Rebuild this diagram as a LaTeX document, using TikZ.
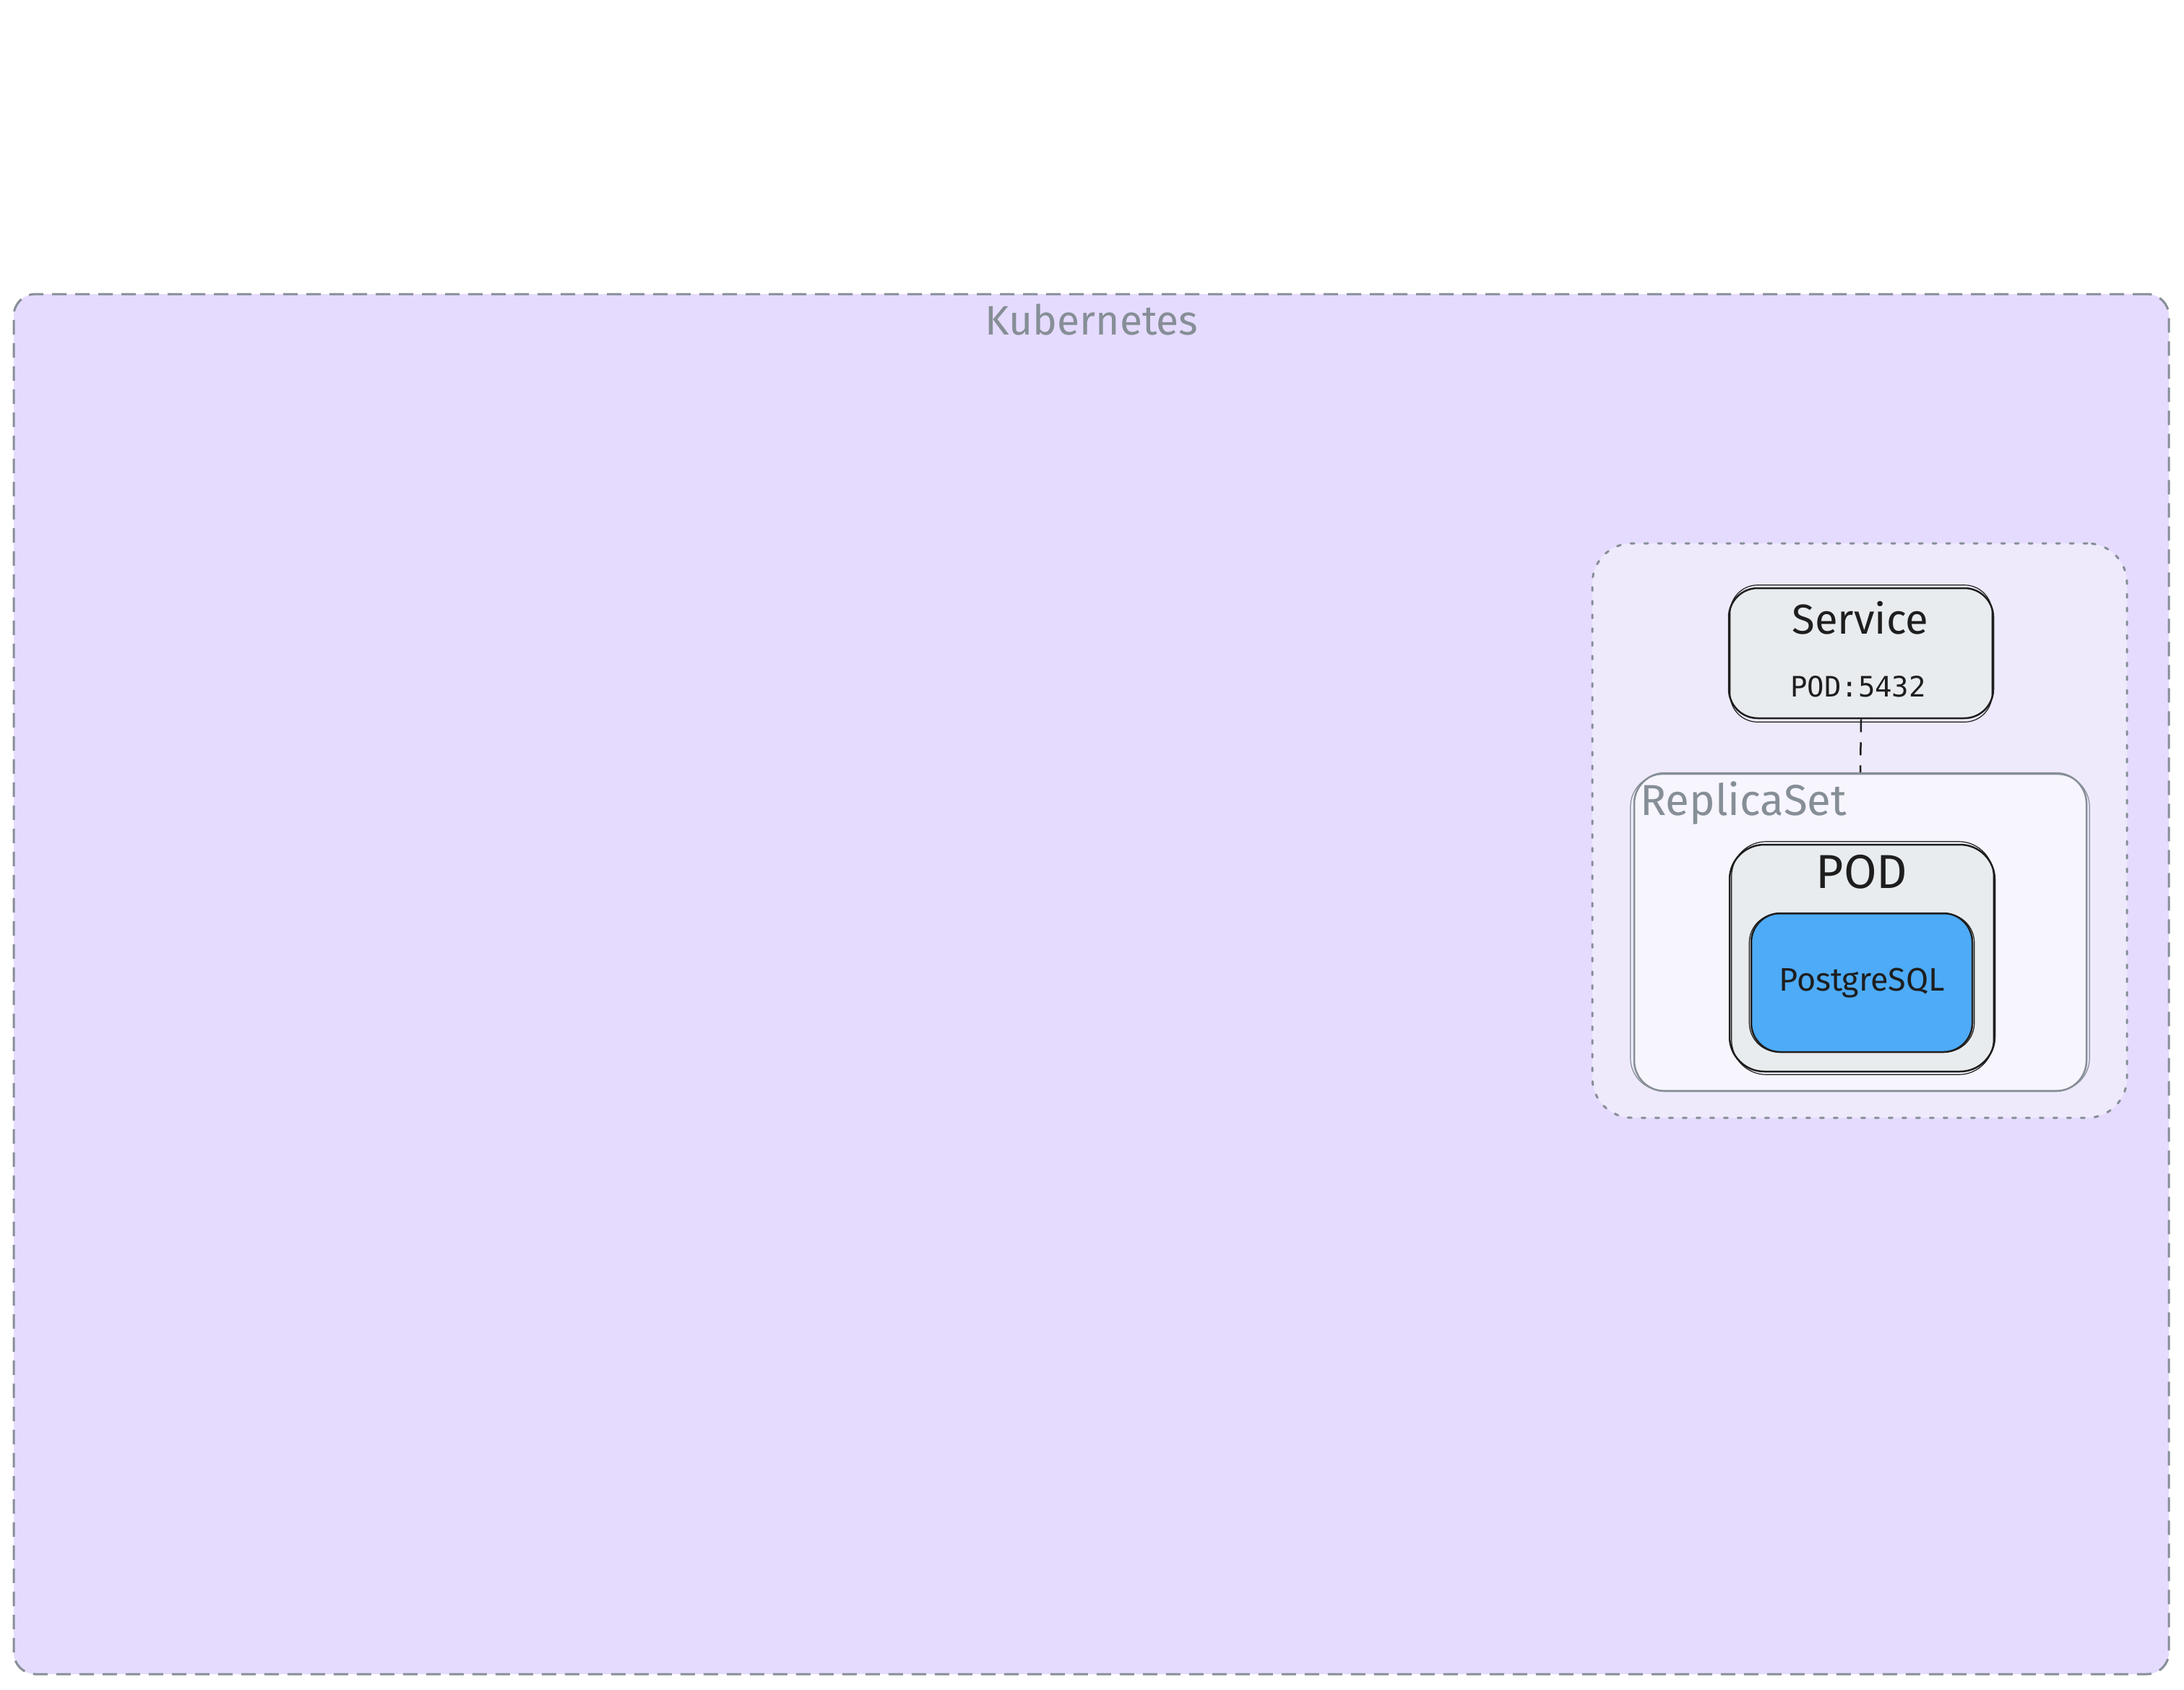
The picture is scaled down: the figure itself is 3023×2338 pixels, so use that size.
\documentclass[tikz,border=0pt]{standalone}
\usepackage{fontspec}
\setmainfont{Fira Sans}
\newfontfamily\monofont{DejaVu Sans Mono}
\definecolor{k8sfill}{HTML}{E5DBFF}
\definecolor{grpfill}{HTML}{EEEAFC}
\definecolor{rsfill}{HTML}{F7F5FD}
\definecolor{boxfill}{HTML}{E9ECEF}
\definecolor{pgfill}{HTML}{4DABF7}
\definecolor{ink}{HTML}{1E1E1E}
\definecolor{greyink}{HTML}{868E96}
\tikzset{
  frame/.style={rectangle, inner sep=0pt, anchor=center},
  k8sbox/.style={frame, draw=greyink, fill=k8sfill, line width=3pt, rounded corners=30pt, dash pattern=on 20pt off 12pt},
  grpbox/.style={frame, draw=greyink, fill=grpfill, line width=3pt, rounded corners=55pt, dash pattern=on 5pt off 14pt, line cap=round},
  rsbox/.style={frame, draw=greyink, fill=rsfill, line width=2.5pt, rounded corners=42pt},
  inkbox/.style={frame, draw=ink, fill=boxfill, line width=2.5pt, rounded corners=40pt},
  pgbox/.style={frame, draw=ink, fill=pgfill, line width=2.5pt, rounded corners=40pt},
  sketch/.style={draw=#1, line width=1.2pt},
  greylabel/.style={text=greyink, inner sep=0pt},
  inklabel/.style={text=ink, inner sep=0pt},
}
\begin{document}
\begin{tikzpicture}[x=1pt,y=-1pt]
\useasboundingbox[fill=white] (0,0) rectangle (3023,2338);
% Kubernetes cluster
\node[k8sbox, minimum width=2983pt, minimum height=1910pt] (k8s) at (1510.5,1362) {};
\node[greylabel, anchor=base, font=\fontsize{57}{63}\selectfont] (k8slbl) at (1511,463) {Kubernetes};
% dotted group
\node[grpbox, minimum width=740pt, minimum height=795pt] (grp) at (2574,1149.5) {};
% ReplicaSet
\node[rsbox, minimum width=626pt, minimum height=440pt] (rs) at (2575,1290) {};
\draw[sketch=greyink, rounded corners=45pt] ([shift={(-4,3)}]rs.north west) rectangle ([shift={(3,-2)}]rs.south east);
\node[greylabel, anchor=base west, font=\fontsize{60}{66}\selectfont] (rslbl) at (2270,1128) {ReplicaSet};
% Service
\node[inkbox, minimum width=366pt, minimum height=180pt] (svc) at (2576,904) {};
\draw[sketch=ink, rounded corners=38pt] ([shift={(3,-3)}]svc.north west) rectangle ([shift={(-3,4)}]svc.south east);
\node[inklabel, anchor=base, font=\fontsize{58}{64}\selectfont] (svclbl) at (2575,877) {Service};
\node[inklabel, anchor=base, font=\monofont\fontsize{39}{45}\selectfont] (svcport) at (2572,964) {POD:5432};
% POD
\node[inkbox, minimum width=367pt, minimum height=314pt, rounded corners=48pt] (pod) at (2577.5,1326) {};
\draw[sketch=ink, rounded corners=48pt] ([shift={(4,-3)}]pod.north west) rectangle ([shift={(-3,3)}]pod.south east);
\node[inklabel, anchor=base, font=\fontsize{66}{72}\selectfont] (podlbl) at (2577,1229) {POD};
% PostgreSQL
\node[pgbox, minimum width=306pt, minimum height=192pt] (pg) at (2577,1360) {};
\draw[sketch=ink, rounded corners=40pt] ([shift={(-1.5,2)}]pg.north west) rectangle ([shift={(1.5,-1.5)}]pg.south east);
\node[inklabel, anchor=base, font=\fontsize{45}{51}\selectfont] (pglbl) at (2577,1371) {PostgreSQL};
% connector
\draw[ink, line width=2.5pt, dash pattern=on 18pt off 14pt] (svc.south) -- (rs.north);
\end{tikzpicture}
\end{document}
